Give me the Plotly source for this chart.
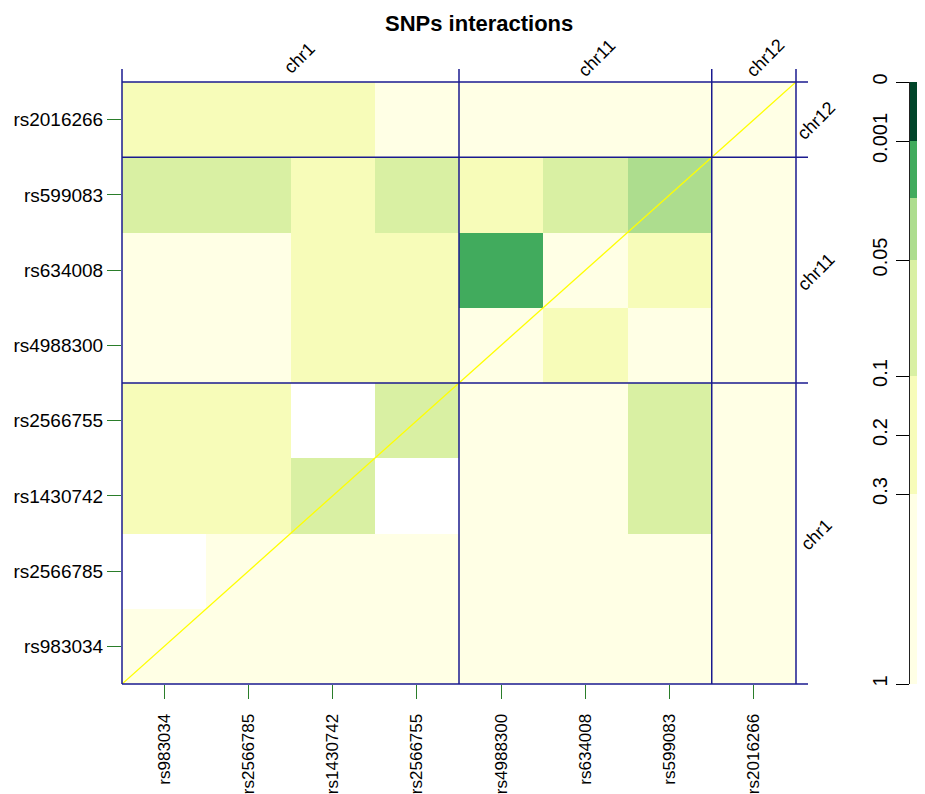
import numpy as np
import plotly.graph_objects as go

# ---------------- data ----------------
snps = ["rs983034", "rs2566785", "rs1430742", "rs2566755",
        "rs4988300", "rs634008", "rs599083", "rs2016266"]
chromosomes = ["chr1", "chr11", "chr12"]
chrom_sizes = [4, 3, 1]

# p-values, rows listed from top (rs2016266) to bottom (rs983034); None = NA
pvals_top_to_bottom = [
    [0.2, 0.2, 0.2, 0.6, 0.6, 0.6, 0.6, 0.6],      # rs2016266
    [0.07, 0.07, 0.2, 0.07, 0.2, 0.07, 0.03, 0.6],  # rs599083
    [0.6, 0.6, 0.2, 0.2, 0.005, 0.6, 0.2, 0.6],     # rs634008
    [0.6, 0.6, 0.2, 0.2, 0.6, 0.2, 0.6, 0.6],       # rs4988300
    [0.2, 0.2, None, 0.07, 0.6, 0.6, 0.07, 0.6],    # rs2566755
    [0.2, 0.2, 0.07, None, 0.6, 0.6, 0.07, 0.6],    # rs1430742
    [None, 0.6, 0.6, 0.6, 0.6, 0.6, 0.6, 0.6],      # rs2566785
    [0.6, 0.6, 0.6, 0.6, 0.6, 0.6, 0.6, 0.6],       # rs983034
]

# colour key: p-value breaks, their place along the key, bin colours
key_values = [0, 0.001, 0.01, 0.05, 0.1, 0.2, 0.3, 1]
key_positions = [0, 59, 116, 178, 294, 353, 412, 602]
bin_breaks = [0, 0.001, 0.01, 0.05, 0.1, 0.3, 1]
bin_colors = ["#004529", "#41ab5d", "#addd8e", "#d9f0a3", "#f7fcb9", "#ffffe5"]
key_tick_values = [0, 0.001, 0.05, 0.1, 0.2, 0.3, 1]
key_tick_text = ["0", "0.001", "0.05", "0.1", "0.2", "0.3", "1"]

# ---------------- layout geometry ----------------
PAGE_OFF = 8                     # browser body margin
W, H = 925 - PAGE_OFF, 794 - PAGE_OFF
L, R, T, B = 122, 796, 82, 684   # in window pixels
KL, KR = 910, 921

def px_x(p):
    return (p - PAGE_OFF) / W

def px_y(p):
    return 1 - (p - PAGE_OFF) / H

dom_x = [px_x(L), px_x(R)]
dom_y = [px_y(B), px_y(T)]
n = len(snps)

def to_pos(p):
    return float(np.interp(p, key_values, key_positions))

kmax = key_positions[-1]

# stepped colour scale in key-position space
bin_pos = [to_pos(b) / kmax for b in bin_breaks]
colorscale = []
for i, c in enumerate(bin_colors):
    colorscale.append([bin_pos[i], c])
    colorscale.append([bin_pos[i + 1], c])

# bottom-to-top matrix for plotting
rows_bottom_to_top = pvals_top_to_bottom[::-1]
z = [[None if v is None else to_pos(v) for v in row] for row in rows_bottom_to_top]

fig = go.Figure()
fig.add_trace(go.Heatmap(
    z=z, x=list(range(n)), y=list(range(n)),
    colorscale=colorscale, zmin=0, zmax=kmax, showscale=False,
    hoverongaps=False, xaxis="x", yaxis="y",
))

# colour key as its own heatmap (two identical columns)
key_edges = [to_pos(b) for b in bin_breaks]
key_mid = [(key_edges[i] + key_edges[i + 1]) / 2 for i in range(len(bin_colors))]
fig.add_trace(go.Heatmap(
    z=[[m, m] for m in key_mid], x=[0, 1], y=key_edges, colorscale=colorscale,
    zmin=0, zmax=kmax, showscale=False, xaxis="x2", yaxis="y2",
))

font = "Liberation Sans, Arial, Helvetica, sans-serif"
tick_green = "#2a7d2a"
line_blue = "#1a1a8f"

# chromosome boundaries (in data units)
bounds = [-0.5]
for s in chrom_sizes:
    bounds.append(bounds[-1] + s)

def data_to_paper_x(v):
    return dom_x[0] + (v + 0.5) / n * (dom_x[1] - dom_x[0])

def data_to_paper_y(v):
    return dom_y[0] + (v + 0.5) / n * (dom_y[1] - dom_y[0])

shapes = []
# diagonal
shapes.append(dict(type="line", xref="x", yref="y", x0=-0.5, y0=-0.5,
                   x1=n - 0.5, y1=n - 0.5, line=dict(color="#ffff00", width=1.3)))
for b in bounds:
    xp = data_to_paper_x(b)
    shapes.append(dict(type="line", xref="paper", yref="paper",
                       x0=xp, x1=xp, y0=dom_y[0], y1=px_y(T - 13),
                       line=dict(color=line_blue, width=1.5)))
    yp = data_to_paper_y(b)
    shapes.append(dict(type="line", xref="paper", yref="paper",
                       x0=dom_x[0], x1=px_x(R + 12), y0=yp, y1=yp,
                       line=dict(color=line_blue, width=1.5)))

annotations = []
for i, c in enumerate(chromosomes):
    mid = (bounds[i] + bounds[i + 1]) / 2
    annotations.append(dict(text=c, x=data_to_paper_x(mid), y=px_y(58),
                            xref="paper", yref="paper", xshift=9 + 2.4 * (len(c) - 4),
                            showarrow=False, textangle=-45,
                            font=dict(family=font, size=18, color="black"),
                            xanchor="center", yanchor="middle"))
    annotations.append(dict(text=c, x=px_x(816), y=data_to_paper_y(mid),
                            xref="paper", yref="paper", yshift=-1.5,
                            showarrow=False, textangle=-45,
                            font=dict(family=font, size=18, color="black"),
                            xanchor="center", yanchor="middle"))

# title as an annotation kept inside the page
annotations.append(dict(text="<b>SNPs interactions</b>", x=px_x(479), y=1.0,
                        xref="paper", yref="paper", showarrow=False,
                        xanchor="center", yanchor="top", yshift=-1,
                        font=dict(family=font, size=22, color="black")))

fig.update_layout(
    width=W, height=H, margin=dict(l=0, r=0, t=0, b=0),
    paper_bgcolor="white", plot_bgcolor="white",
    xaxis=dict(domain=dom_x, anchor="y", range=[-0.5, n - 0.5],
               tickvals=list(range(n)), ticktext=snps, tickangle=-90,
               ticks="outside", ticklen=14, tickcolor=tick_green, tickwidth=1,
               ticklabelstandoff=8, showgrid=False, zeroline=False,
               showline=False, automargin=False,
               tickfont=dict(family=font, size=17, color="black")),
    yaxis=dict(domain=dom_y, anchor="x", range=[-0.5, n - 0.5],
               tickvals=list(range(n)), ticktext=snps,
               ticks="outside", ticklen=14, tickcolor=tick_green, tickwidth=1,
               ticklabelstandoff=0, showgrid=False, zeroline=False,
               showline=False, automargin=False,
               tickfont=dict(family=font, size=19, color="black")),
    xaxis2=dict(domain=[px_x(KL), px_x(KR)], anchor="y2", range=[-0.5, 1.5],
                showticklabels=False, ticks="", showgrid=False, zeroline=False,
                showline=False, automargin=False),
    yaxis2=dict(domain=dom_y, anchor="x2", range=[kmax, 0], side="left",
                tickvals=[to_pos(v) for v in key_tick_values], ticktext=key_tick_text,
                tickangle=-90, ticks="outside", ticklen=13, tickcolor="black",
                tickwidth=1, showline=True, linecolor="#222", linewidth=1,
                showgrid=False, zeroline=False, automargin=False,
                ticklabelstandoff=1,
                tickfont=dict(family=font, size=20, color="black")),
    shapes=shapes, annotations=annotations,
)

fig.write_html("out.html")
